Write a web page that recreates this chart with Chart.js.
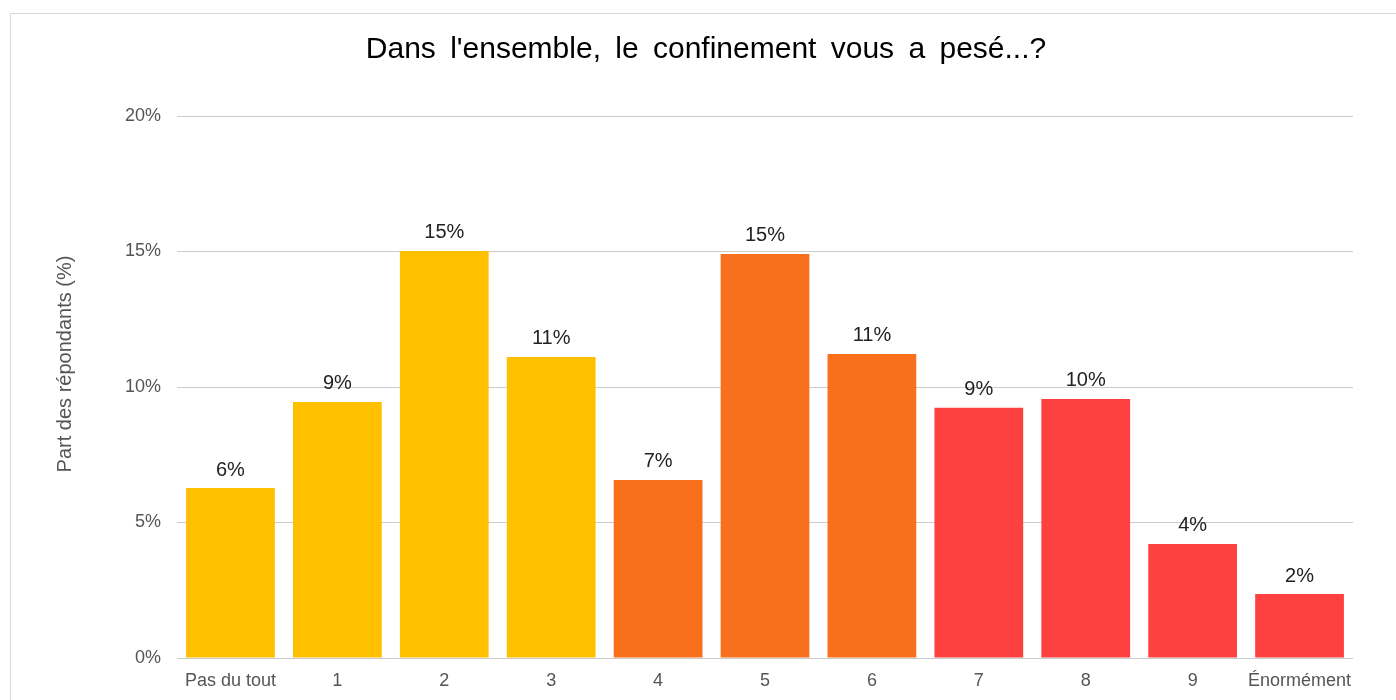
<!DOCTYPE html>
<html>
<head>
<meta charset="utf-8">
<script src="https://cdn.jsdelivr.net/npm/chart.js@4.4.1/dist/chart.umd.min.js"></script>
<style>
  html, body { margin: 0; padding: 0; background: #fff; }
  #wrap { position: relative; width: 1396px; height: 700px; overflow: hidden; }
  #frame { position: absolute; left: 10px; top: 13px; width: 1400px; height: 700px; border: 1px solid #d9d9d9; box-sizing: border-box; pointer-events: none; }
  canvas { position: absolute; left: 0; top: 0; }
</style>
</head>
<body>
<div id="wrap">
  <canvas id="c" width="1396" height="700"></canvas>
  <div id="frame"></div>
</div>
<script>
const titleText = "Dans l'ensemble, le confinement vous a pesé...?";
const yAxisTitle = "Part des répondants (%)";
const categories = ["Pas du tout", "1", "2", "3", "4", "5", "6", "7", "8", "9", "Énormément"];
const values = [6.27, 9.45, 15.02, 11.11, 6.57, 14.91, 11.22, 9.23, 9.56, 4.21, 2.36];
const valueLabels = ["6%", "9%", "15%", "11%", "7%", "15%", "11%", "9%", "10%", "4%", "2%"];
const barColors = ["#FFC000", "#FFC000", "#FFC000", "#FFC000", "#F8701B", "#F8701B", "#F8701B", "#FF4040", "#FF4040", "#FF4040", "#FF4040"];
const yTicks = [0, 5, 10, 15, 20];

const FONT = "'Liberation Sans', Arial, sans-serif";

const valueLabelPlugin = {
  id: 'valueLabels',
  afterDatasetsDraw(chart) {
    const ctx = chart.ctx;
    const meta = chart.getDatasetMeta(0);
    ctx.save();
    ctx.font = "20px " + FONT;
    ctx.fillStyle = "#222222";
    ctx.textAlign = "center";
    ctx.textBaseline = "bottom";
    meta.data.forEach((bar, i) => {
      ctx.fillText(valueLabels[i], bar.x, bar.y - 8);
    });
    ctx.restore();
  }
};

const titlePlugin = {
  id: 'spacedTitle',
  afterDraw(chart) {
    const ctx = chart.ctx;
    ctx.save();
    ctx.font = "30px " + FONT;
    if ('wordSpacing' in ctx) ctx.wordSpacing = "6px";
    ctx.fillStyle = "#000000";
    ctx.textAlign = "center";
    ctx.textBaseline = "alphabetic";
    ctx.fillText(titleText, 706, 58);
    ctx.restore();

    // y-axis title, positioned as in the reference (slightly above centre)
    ctx.save();
    ctx.font = "20px " + FONT;
    ctx.fillStyle = "#555555";
    ctx.textAlign = "center";
    ctx.textBaseline = "middle";
    ctx.translate(65, 364);
    ctx.rotate(-Math.PI / 2);
    ctx.fillText(yAxisTitle, 0, 0);
    ctx.restore();
  }
};

new Chart(document.getElementById('c'), {
  type: 'bar',
  data: {
    labels: categories,
    datasets: [{
      data: values,
      backgroundColor: barColors,
      borderWidth: 0,
      categoryPercentage: 1.0,
      barPercentage: 0.83
    }]
  },
  options: {
    responsive: false,
    animation: false,
    devicePixelRatio: 1,
    layout: { padding: { left: 54, right: 43, top: 116, bottom: 0 } },
    plugins: {
      legend: { display: false },
      tooltip: { enabled: false },
      title: { display: false }
    },
    scales: {
      x: {
        grid: { display: false, drawTicks: false },
        border: { display: false },
        ticks: {
          color: "#555555",
          font: { family: FONT, size: 18 },
          padding: 12,
          maxRotation: 0,
          autoSkip: false
        },
        afterFit(scale) { scale.height = 42; }
      },
      y: {
        min: 0,
        max: 20,
        afterBuildTicks(scale) { scale.ticks = yTicks.map(v => ({ value: v })); },
        grid: { color: "#cccccc", lineWidth: 1, drawTicks: false },
        border: { display: false },
        ticks: {
          color: "#555555",
          font: { family: FONT, size: 18 },
          padding: 16,
          callback: (v) => v + "%"
        },
        title: { display: false },
        afterFit(scale) { scale.width = 177 - 54; }
      }
    }
  },
  plugins: [valueLabelPlugin, titlePlugin]
});
</script>
</body>
</html>
